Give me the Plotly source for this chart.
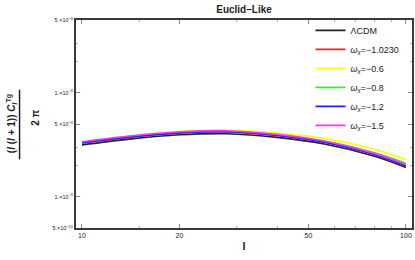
import plotly.graph_objects as go

ell = [10, 14, 20, 28, 40, 56, 80, 100]
lcdm   = [3.15e-9, 3.58e-9, 3.94e-9, 4.03e-9, 3.72e-9, 3.21e-9, 2.45e-9, 1.91e-9]
w_1023 = [3.29e-9, 3.73e-9, 4.10e-9, 4.20e-9, 3.88e-9, 3.35e-9, 2.56e-9, 1.99e-9]
w_06   = [3.35e-9, 3.82e-9, 4.24e-9, 4.38e-9, 4.09e-9, 3.64e-9, 2.86e-9, 2.27e-9]
w_08   = [3.31e-9, 3.75e-9, 4.12e-9, 4.23e-9, 3.92e-9, 3.42e-9, 2.64e-9, 2.10e-9]
w_12   = [3.30e-9, 3.74e-9, 4.11e-9, 4.21e-9, 3.88e-9, 3.35e-9, 2.55e-9, 1.98e-9]
w_15   = [3.37e-9, 3.83e-9, 4.21e-9, 4.31e-9, 3.97e-9, 3.43e-9, 2.61e-9, 2.04e-9]

series = [
    ("ΛCDM", lcdm, "#222222"),
    ("<i>ω</i><sub><i>x</i></sub>=−1.0230", w_1023, "#ff2020"),
    ("<i>ω</i><sub><i>x</i></sub>=−0.6", w_06, "#ffff00"),
    ("<i>ω</i><sub><i>x</i></sub>=−0.8", w_08, "#22ff22"),
    ("<i>ω</i><sub><i>x</i></sub>=−1.2", w_12, "#2222ff"),
    ("<i>ω</i><sub><i>x</i></sub>=−1.5", w_15, "#ff33ff"),
]

xticks = [10, 20, 50, 100]
yticks = [5e-10, 1e-9, 5e-9, 1e-8, 5e-8]
yticklabels = ["5.×10<sup>−10</sup>", "1.×10<sup>−9</sup>", "5.×10<sup>−9</sup>",
               "1.×10<sup>−8</sup>", "5.×10<sup>−8</sup>"]

FONT = "Liberation Sans"
fig = go.Figure()
for name, vals, col in series:
    fig.add_trace(go.Scatter(x=ell, y=vals, mode="lines", name=name,
                             line=dict(color=col, width=1.6, shape="spline")))

axis_common = dict(showline=True, linecolor="#3a3a3a", linewidth=2, mirror="allticks",
                   ticks="inside", ticklen=4, tickcolor="#888", showgrid=False, zeroline=False,
                   automargin=False)
fig.update_xaxes(type="log", range=[0.9815, 2.0187], tickvals=xticks,
                 ticktext=[str(v) for v in xticks],
                 tickfont=dict(family=FONT, size=7, color="#222"),
                 minor=dict(tickvals=[15, 30, 40, 60, 70, 80, 90], ticks="inside", ticklen=2, tickcolor="#aaa"),
                 title=dict(text="<b>l</b>", font=dict(family=FONT, size=11, color="#222"), standoff=4),
                 **axis_common)
fig.update_yaxes(type="log", range=[-9.30103, -7.30103], tickvals=yticks, ticktext=yticklabels,
                 tickfont=dict(family=FONT, size=5.5, color="#222"),
                 minor=dict(tickvals=[2e-9, 3e-9, 2e-8, 3e-8], ticks="inside", ticklen=2, tickcolor="#aaa"),
                 **axis_common)

fig.add_annotation(text="<b>(<i>l</i> (<i>l</i> + 1)) <i>C</i><sub><i>l</i></sub><sup>Tg</sup></b>",
                   xref="paper", yref="paper", x=-0.193, y=0.5, textangle=-90, showarrow=False,
                   xanchor="center", yanchor="middle",
                   font=dict(family=FONT, size=10, color="#222"))
fig.add_annotation(text="<b>2 π</b>", xref="paper", yref="paper", x=-0.119, y=0.53, textangle=-90,
                   showarrow=False, xanchor="center", yanchor="middle",
                   font=dict(family=FONT, size=10, color="#222"))
fig.add_shape(type="line", xref="paper", yref="paper", x0=-0.168, x1=-0.168, y0=0.33, y1=0.665,
              line=dict(color="#222", width=1.5))

fig.update_layout(
    width=415, height=260,
    margin=dict(l=76, r=3, t=20, b=32),
    paper_bgcolor="white", plot_bgcolor="white",
    title=dict(text="<b>Euclid–Like</b>", x=0.588, xanchor="center", y=0.965, yanchor="middle",
               font=dict(family=FONT, size=10, color="#222")),
    legend=dict(x=0.698, y=1.02, xanchor="left", yanchor="top", bgcolor="rgba(0,0,0,0)",
                font=dict(family=FONT, size=9, color="#222"), itemwidth=30, tracegroupgap=0),
    showlegend=True,
)
fig.write_html("out.html", config={"displayModeBar": False},
               post_script="document.body.style.margin='0';")
